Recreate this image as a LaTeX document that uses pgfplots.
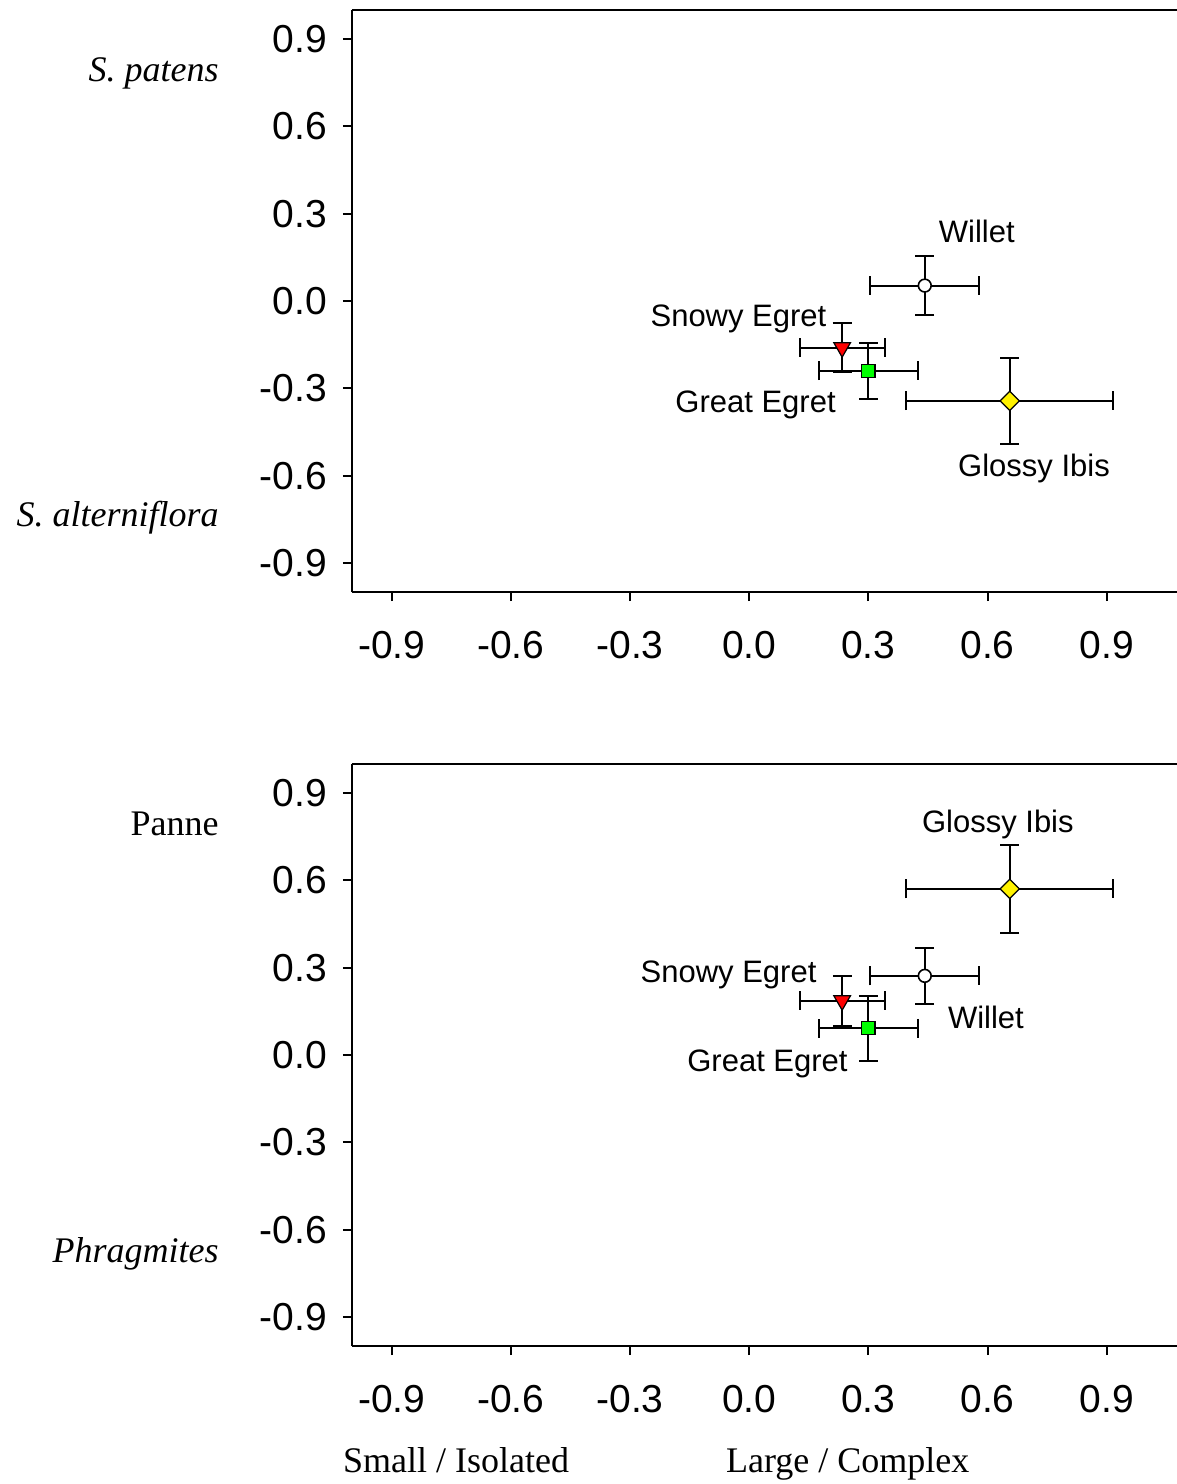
\documentclass[border=0pt]{standalone}
\usepackage{fontspec}
\setmainfont{Liberation Sans}
\newfontfamily\tnr{Liberation Serif}
\usepackage{pgfplots}
\usepackage{pgfplotstable}
\pgfplotsset{compat=1.18}

% top panel: S. patens vs S. alterniflora
\pgfplotstableread{
x     y      ex    ey
0.442 0.053  0.137 0.100
}\willetA
\pgfplotstableread{
x     y      ex    ey
0.234 -0.160 0.107 0.085
}\snowyA
\pgfplotstableread{
x     y      ex    ey
0.300 -0.240 0.124 0.096
}\greatA
\pgfplotstableread{
x     y      ex    ey
0.656 -0.343 0.261 0.148
}\glossyA

% bottom panel: Panne vs Phragmites
\pgfplotstableread{
x     y      ex    ey
0.442 0.272  0.137 0.096
}\willetB
\pgfplotstableread{
x     y      ex    ey
0.234 0.187  0.107 0.086
}\snowyB
\pgfplotstableread{
x     y      ex    ey
0.300 0.092  0.124 0.112
}\greatB
\pgfplotstableread{
x     y      ex    ey
0.656 0.571  0.261 0.151
}\glossyB

\pgfplotsset{
  panel/.style={
    scale only axis, width=412.5pt, height=291pt,
    xmin=-1, xmax=1.077, ymin=-1, ymax=1,
    axis x line=box, axis y line=left,
    axis line style={-, line width=1pt},
    xtick={-0.9,-0.6,-0.3,0,0.3,0.6,0.9},
    ytick={-0.9,-0.6,-0.3,0,0.3,0.6,0.9},
    xtick pos=left, ytick pos=left,
    tick align=outside, major tick length=4.5pt,
    tick style={line width=1pt, black},
    tick label style={font=\fontsize{19.5}{20}\selectfont},
    yticklabel style={xshift=-4.5pt},
    xticklabel style={yshift=-11.5pt},
    /pgf/number format/.cd, fixed, fixed zerofill, precision=1, assume math mode=true,
    /pgfplots/.cd,
    clip=false,
  },
  pt/.style={only marks,
    error bars/.cd, x dir=both, x explicit, y dir=both, y explicit,
    error bar style={line width=1pt, black},
    error mark options={rotate=90, line width=1pt, black, mark size=4.7pt},
    /pgfplots/.cd},
  willet/.style={pt, mark=*, mark size=3.2pt, mark options={fill=white, draw=black, line width=0.8pt}},
  snowy/.style={pt, mark=triangle*, mark size=4.8pt, mark options={rotate=180, fill=red, draw=black, line width=0.6pt}},
  great/.style={pt, mark=square*, mark size=3.3pt, mark options={fill=green, draw=black, line width=0.6pt}},
  glossy/.style={pt, mark=square*, mark size=3.4pt, mark options={rotate=45, fill=yellow, draw=black, line width=0.6pt}},
}
\tikzset{
  lab/.style={font=\fontsize{15.5}{16}\selectfont},
  side/.style={font=\tnr\fontsize{18}{18}\selectfont, inner sep=0pt},
}

\begin{document}
\begin{tikzpicture}
\begin{axis}[panel]
  \addplot[willet] table[x=x, y=y, x error=ex, y error=ey] {\willetA};
  \addplot[snowy]  table[x=x, y=y, x error=ex, y error=ey] {\snowyA};
  \addplot[great]  table[x=x, y=y, x error=ex, y error=ey] {\greatA};
  \addplot[glossy] table[x=x, y=y, x error=ex, y error=ey] {\glossyA};
  \node[lab] at (axis cs:0.573,0.240) {Willet};
  \node[lab] at (axis cs:-0.027,-0.062) {Snowy Egret};
  \node[lab] at (axis cs:0.016,-0.357) {Great Egret};
  \node[lab] at (axis cs:0.717,-0.575) {Glossy Ibis};
  \node[side, anchor=east] at (axis cs:-1.335,0.783) {\itshape S. patens};
  \node[side, anchor=east] at (axis cs:-1.335,-0.746) {\itshape S. alterniflora};
\end{axis}

\begin{axis}[panel, at={(0pt,-377pt)}]
  \addplot[willet] table[x=x, y=y, x error=ex, y error=ey] {\willetB};
  \addplot[snowy]  table[x=x, y=y, x error=ex, y error=ey] {\snowyB};
  \addplot[great]  table[x=x, y=y, x error=ex, y error=ey] {\greatB};
  \addplot[glossy] table[x=x, y=y, x error=ex, y error=ey] {\glossyB};
  \node[lab] at (axis cs:0.626,0.792) {Glossy Ibis};
  \node[lab] at (axis cs:-0.052,0.275) {Snowy Egret};
  \node[lab] at (axis cs:0.596,0.128) {Willet};
  \node[lab] at (axis cs:0.046,-0.030) {Great Egret};
  \node[side, anchor=east] at (axis cs:-1.335,0.794) {Panne};
  \node[side, anchor=east] at (axis cs:-1.335,-0.684) {\itshape Phragmites};
  \node[side, anchor=base] at (axis cs:-0.738,-1.435) {Small / Isolated};
  \node[side, anchor=base] at (axis cs:0.248,-1.435) {Large / Complex};
\end{axis}
\pgfresetboundingbox
\useasboundingbox (-176pt,-446pt) rectangle (412.5pt,296pt);
\end{tikzpicture}
\end{document}
